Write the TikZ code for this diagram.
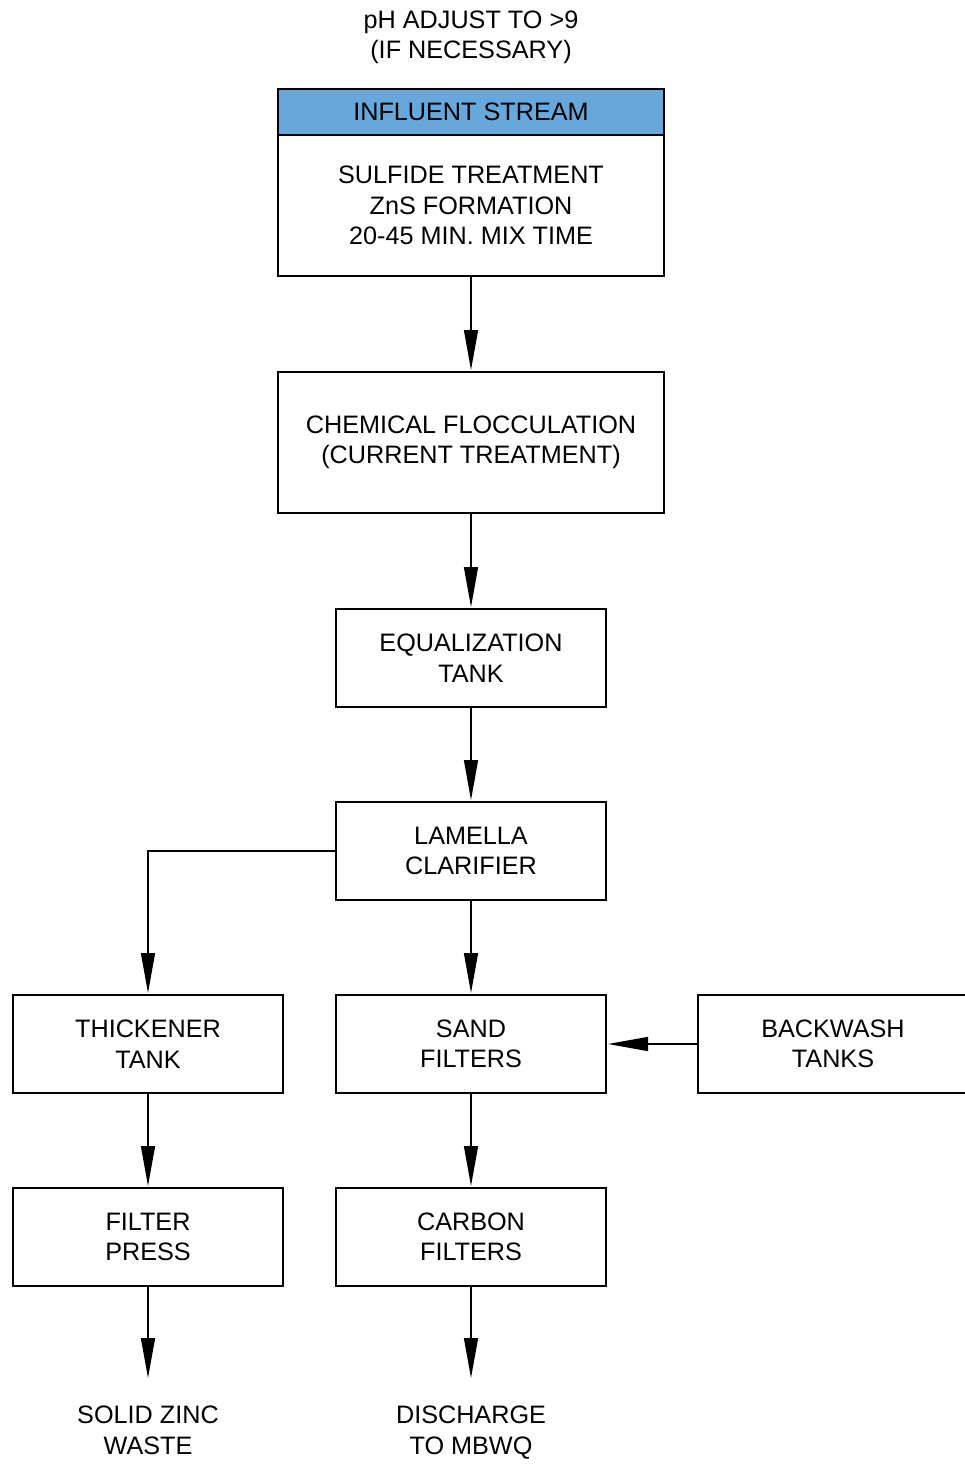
\documentclass[tikz,border=0pt]{standalone}
\usepackage{fontspec}
\setmainfont{Liberation Sans}
\usepackage{tikz}
\usetikzlibrary{arrows.meta, positioning}
\usepackage{xcolor}
\definecolor{headercolor}{HTML}{67A7DA}

\begin{document}
\begin{tikzpicture}[
    node distance=1.9cm,
    box/.style={rectangle, draw=black, line width=0.8pt, minimum width=5.4cm,
                minimum height=1.96cm, outer sep=0pt, align=center,
                font=\fontsize{14.35}{17.3}\selectfont},
    wide/.style={box, minimum width=7.72cm},
    note/.style={inner sep=0pt, align=center, font=\fontsize{14.35}{17.3}\selectfont},
    flow/.style={-{Triangle[length=0.8cm, width=0.28cm]}, line width=0.8pt,
                 shorten >=0.04cm},
]
\useasboundingbox (0,0) rectangle (19.28,-29.36);

% Influent stream and sulfide step
\node[wide, fill=headercolor, minimum height=0.92cm] (header) at (9.42,-2.24)
    {INFLUENT STREAM};
\node[wide, minimum height=2.82cm, below=0pt of header] (sulfide)
    {SULFIDE TREATMENT\\ZnS FORMATION\\20-45 MIN. MIX TIME};
\node[note, above=0.5cm of header] (phadjust)
    {pH ADJUST TO >9\\(IF NECESSARY)};

% Main treatment train
\node[wide, minimum height=2.82cm, below=1.92cm of sulfide] (floc)
    {CHEMICAL FLOCCULATION\\(CURRENT TREATMENT)};
\node[box, below=1.92cm of floc] (eqtank) {EQUALIZATION\\TANK};
\node[box, below=of eqtank] (lamella) {LAMELLA\\CLARIFIER};
\node[box, below=of lamella] (sand) {SAND\\FILTERS};
\node[box, below=of sand] (carbon) {CARBON\\FILTERS};
\node[note, below=2.4cm of carbon] (discharge) {DISCHARGE\\TO MBWQ};

% Sludge side
\node[box, left=1.06cm of sand] (thickener) {THICKENER\\TANK};
\node[box, below=of thickener] (press) {FILTER\\PRESS};
\node[note, below=2.4cm of press] (waste) {SOLID ZINC\\WASTE};

% Backwash
\node[box, right=1.84cm of sand] (backwash) {BACKWASH\\TANKS};

\draw[flow] (sulfide) -- (floc);
\draw[flow] (floc) -- (eqtank);
\draw[flow] (eqtank) -- (lamella);
\draw[flow] (lamella) -- (sand);
\draw[flow] (sand) -- (carbon);
\draw[flow, shorten >=0.56cm] (carbon) -- (discharge);
\draw[flow] (lamella.west) -| (thickener);
\draw[flow] (thickener) -- (press);
\draw[flow, shorten >=0.56cm] (press) -- (waste);
\draw[flow] (backwash) -- (sand);

\end{tikzpicture}
\end{document}
